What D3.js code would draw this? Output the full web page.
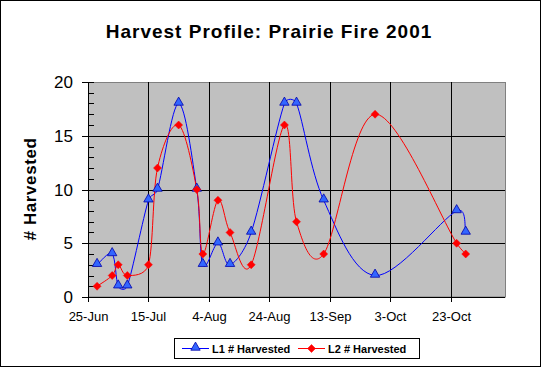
<!DOCTYPE html>
<html>
<head>
<meta charset="utf-8">
<script src="https://cdn.jsdelivr.net/npm/d3@7"></script>
<style>
  body { margin: 0; background: #fff; }
  svg { display: block; font-family: Arial, "Liberation Sans", sans-serif; }
</style>
</head>
<body>
<div id="chart"></div>
<script>
// data
var dates = ["28-Jun","3-Jul","5-Jul","8-Jul","15-Jul","18-Jul","25-Jul","31-Jul","2-Aug",
             "7-Aug","11-Aug","18-Aug","29-Aug","2-Sep","11-Sep","28-Sep","25-Oct","28-Oct"];
var l1 = [3, 4, 1, 1, 9, 10, 18, 10, 3, 5, 3, 6, 18, 18, 9, 2, 8, 6];
var l2 = [1, 2, 3, 2, 3, 12, 16, 10, 4, 9, 6, 3, 16, 7, 4, 17, 5, 4];
var seriesNames = ["L1 # Harvested", "L2 # Harvested"];
var tickDates = ["25-Jun","15-Jul","4-Aug","24-Aug","13-Sep","3-Oct","23-Oct"];
var yTicks = [0, 5, 10, 15, 20];

var W = 542, H = 368;
var parse = function(s){ return d3.utcParse("%d-%b-%Y")(s + "-2001"); };
var fmt = d3.utcFormat("%-d-%b");

var svg = d3.select("#chart").append("svg").attr("width", W).attr("height", H);

// outer border
svg.append("rect").attr("x", 0.5).attr("y", 0.5).attr("width", 540).attr("height", 366)
  .attr("fill", "#fff").attr("stroke", "#000");

var x = d3.scaleUtc().domain([parse("25-Jun"), parse("10-Nov")]).range([88, 505]);
var y = d3.scaleLinear().domain([0, 20]).range([297, 82]);
var px = function(v){ return Math.round(v) + 0.5; };

// plot area
svg.append("rect").attr("x", 88.5).attr("y", 82.5).attr("width", 417).attr("height", 214.5)
  .attr("fill", "#c0c0c0").attr("stroke", "#808080");

// gridlines
var g = svg.append("g");
yTicks.slice(1, -1).forEach(function(t){
  g.append("line").attr("x1", 88).attr("x2", 505).attr("y1", px(y(t))).attr("y2", px(y(t)))
    .attr("stroke", "#000");
});
tickDates.slice(1).forEach(function(t){
  var xx = px(x(parse(t)));
  g.append("line").attr("x1", xx).attr("x2", xx).attr("y1", 82).attr("y2", 297).attr("stroke", "#000");
});

// y axis with minor ticks inside
var yAxis = svg.append("g");
yAxis.append("line").attr("x1", 88.5).attr("x2", 88.5).attr("y1", 82).attr("y2", 298).attr("stroke", "#000");
d3.range(0, 21).forEach(function(t){
  var yy = px(y(t));
  var major = t % 5 === 0;
  yAxis.append("line").attr("x1", major ? 82 : 88).attr("x2", 94).attr("y1", yy).attr("y2", yy)
    .attr("stroke", "#000");
});
yAxis.selectAll("text").data(yTicks).enter().append("text")
  .attr("x", 73).attr("y", function(d){ return y(d); }).attr("dy", "0.36em")
  .attr("text-anchor", "end").attr("font-size", 17).text(function(d){ return d; });

// x axis
var xAxis = svg.append("g");
xAxis.append("line").attr("x1", 88).attr("x2", 505).attr("y1", 297.5).attr("y2", 297.5).attr("stroke", "#000");
tickDates.forEach(function(t){
  var xx = px(x(parse(t)));
  xAxis.append("line").attr("x1", xx).attr("x2", xx).attr("y1", 293).attr("y2", 302).attr("stroke", "#000");
  xAxis.append("text").attr("x", xx).attr("y", 321).attr("text-anchor", "middle")
    .attr("font-size", 13).text(fmt(parse(t)));
});

// excel-style smoothing: bezier with 1/6 tangents, capped at half the segment length
function smooth(pts){
  var p = d3.path();
  var dist = function(a, b){ return Math.hypot(b[0] - a[0], b[1] - a[1]); };
  p.moveTo(pts[0][0], pts[0][1]);
  for (var i = 0; i < pts.length - 1; i++) {
    var p0 = pts[Math.max(i - 1, 0)], p1 = pts[i], p2 = pts[i + 1], p3 = pts[Math.min(i + 2, pts.length - 1)];
    var d12 = dist(p1, p2), d02 = dist(p0, p2), d13 = dist(p1, p3);
    var f1 = d02 > 0 ? Math.min(1 / 6, d12 / (2 * d02)) : 0;
    var f2 = d13 > 0 ? Math.min(1 / 6, d12 / (2 * d13)) : 0;
    p.bezierCurveTo(p1[0] + f1 * (p2[0] - p0[0]), p1[1] + f1 * (p2[1] - p0[1]),
                    p2[0] - f2 * (p3[0] - p1[0]), p2[1] - f2 * (p3[1] - p1[1]),
                    p2[0], p2[1]);
  }
  return p.toString();
}

var colors = ["#0000ff", "#ff0000"];
var tri = d3.symbol().type(d3.symbolTriangle).size(38);
var dia = "M0,-4L4,0L0,4L-4,0Z";

[l1, l2].forEach(function(vals, si){
  var pts = vals.map(function(v, i){ return [x(parse(dates[i])), y(v)]; });
  svg.append("path").attr("d", smooth(pts)).attr("fill", "none")
    .attr("stroke", colors[si]).attr("stroke-width", 1);
});
[l1, l2].forEach(function(vals, si){
  svg.append("g").selectAll("path").data(vals).enter().append("path")
    .attr("transform", function(d, i){ return "translate(" + x(parse(dates[i])) + "," + (y(d) + (si === 0 ? -1 : 0)) + ")"; })
    .attr("d", si === 0 ? tri() : dia)
    .attr("fill", si === 0 ? "#3366ff" : "#ff0000")
    .attr("stroke", si === 0 ? "#0000aa" : "#ff0000").attr("stroke-width", si === 0 ? 0.8 : 0.5);
});

// title and axis label
svg.append("text").attr("x", 269).attr("y", 38).attr("text-anchor", "middle")
  .attr("font-size", 19).attr("font-weight", "bold").attr("letter-spacing", 1)
  .text("Harvest Profile: Prairie Fire 2001");
svg.append("text").attr("transform", "translate(36,189) rotate(-90)").attr("text-anchor", "middle")
  .attr("font-size", 17).attr("font-weight", "bold").attr("letter-spacing", 0.6).text("# Harvested");

// legend
var leg = svg.append("g");
leg.append("rect").attr("x", 174.5).attr("y", 338.5).attr("width", 245).attr("height", 20)
  .attr("fill", "#fff").attr("stroke", "#000");
var legX = [182, 298];
seriesNames.forEach(function(name, si){
  var lx = legX[si];
  leg.append("line").attr("x1", lx).attr("x2", lx + 27).attr("y1", 348.5).attr("y2", 348.5)
    .attr("stroke", colors[si]);
  leg.append("path").attr("transform", "translate(" + (lx + 13.5) + "," + (si === 0 ? 347.5 : 348.5) + ")")
    .attr("d", si === 0 ? tri() : dia)
    .attr("fill", si === 0 ? "#3366ff" : "#ff0000")
    .attr("stroke", si === 0 ? "#0000aa" : "#ff0000").attr("stroke-width", si === 0 ? 0.8 : 0.5);
  leg.append("text").attr("x", lx + 30).attr("y", 352.5).attr("font-size", 11)
    .attr("font-weight", "bold").text(name);
});
</script>
</body>
</html>
